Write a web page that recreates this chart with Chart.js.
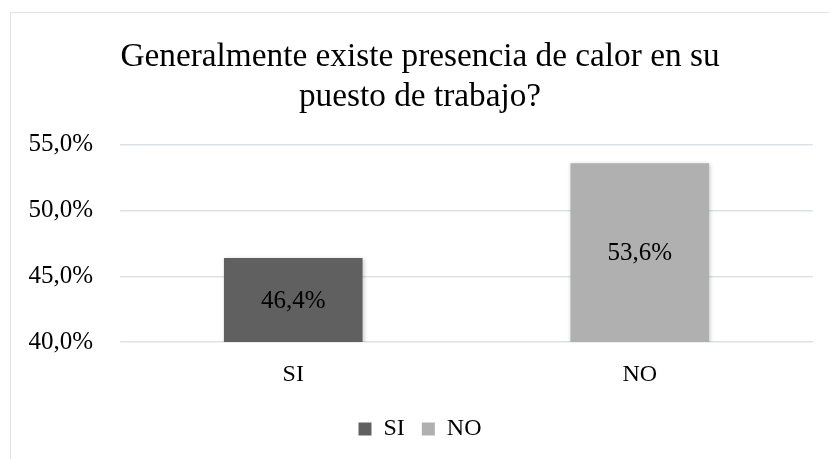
<!DOCTYPE html>
<html>
<head>
<meta charset="utf-8">
<script src="https://cdn.jsdelivr.net/npm/chart.js@4.4.1/dist/chart.umd.min.js"></script>
<style>
  html, body { margin: 0; padding: 0; background: #fff; }
  #wrap { position: relative; width: 829px; height: 459px; overflow: hidden; }
  #frame { position: absolute; left: 10px; top: 12px; width: 840px; height: 470px; border: 1px solid #dfe3e8; }
  #chart { position: absolute; left: 0; top: 0; }
</style>
</head>
<body>
<div id="wrap">
  <div id="frame"></div>
  <canvas id="chart" width="829" height="459"></canvas>
</div>
<script>
// 데이터
const categories = ["SI", "NO"];
const percentValues = [46.4, 53.6];
const barColors = ["#606060", "#b0b0b0"];
const titleLines = ["Generalmente existe presencia de calor en su", "puesto de trabajo?"];
const yTickMin = 40, yTickMax = 55, yTickStep = 5;

const serif = "'Liberation Serif', 'Times New Roman', serif";

function fmt(v) {
    return v.toFixed(1).replace(".", ",") + "%";
}

// 막대 그림자 + 가운데 값 표시
const barDecor = {
    id: "barDecor",
    beforeDatasetsDraw(chart) {
        const ctx = chart.ctx;
        ctx.save();
        ctx.shadowColor = "rgba(0,0,0,0.22)";
        ctx.shadowBlur = 4;
        ctx.shadowOffsetX = 1;
        ctx.shadowOffsetY = 1;
    },
    afterDatasetsDraw(chart) {
        const ctx = chart.ctx;
        ctx.restore();
        const xs = chart.scales.x, ys = chart.scales.y;
        ctx.save();
        ctx.font = "25px " + serif;
        ctx.fillStyle = "#000000";
        ctx.textAlign = "center";
        ctx.textBaseline = "middle";
        for (let i = 0; i < percentValues.length; i++) {
            const px = xs.getPixelForValue(i);
            const top = ys.getPixelForValue(percentValues[i]);
            const base = ys.getPixelForValue(yTickMin);
            ctx.fillText(fmt(percentValues[i]), px, (top + base) / 2 + 1);
        }
        ctx.restore();
    }
};

new Chart(document.getElementById("chart"), {
    type: "bar",
    data: {
        labels: categories,
        datasets: [{
            label: "Serie",
            data: percentValues,
            backgroundColor: barColors,
            borderWidth: 0,
            categoryPercentage: 1.0,
            barPercentage: 0.4
        }]
    },
    options: {
        responsive: false,
        animation: false,
        layout: { padding: { top: 37, left: 27, right: 16, bottom: 8 } },
        plugins: {
            title: {
                display: true,
                text: titleLines,
                color: "#000",
                font: { family: serif, size: 33.3, weight: "normal", lineHeight: 1.2 },
                padding: { top: 0, bottom: 28 }
            },
            legend: {
                position: "bottom",
                labels: {
                    color: "#000",
                    font: { family: serif, size: 24 },
                    boxWidth: 13,
                    boxHeight: 13,
                    padding: 17,
                    generateLabels: function(chart) {
                        return categories.map(function(c, i) {
                            return { text: c, fillStyle: barColors[i], strokeStyle: barColors[i], lineWidth: 0, index: i };
                        });
                    }
                }
            },
            tooltip: { enabled: false }
        },
        scales: {
            x: {
                grid: { display: false, drawTicks: false },
                border: { display: false },
                ticks: { color: "#000", font: { family: serif, size: 24, lineHeight: 1.2 }, padding: 18 },
                afterFit: function(scale) { scale.height = 58; }
            },
            y: {
                min: yTickMin,
                max: yTickMax,
                grid: { color: "#dde2e8", lineWidth: 1.5, drawTicks: false },
                border: { display: false },
                ticks: {
                    stepSize: yTickStep,
                    color: "#000",
                    font: { family: serif, size: 25 },
                    padding: 27,
                    callback: function(v) { return fmt(v); }
                },
                afterFit: function(scale) { scale.width = 93; }
            }
        }
    },
    plugins: [barDecor]
});
</script>
</body>
</html>
